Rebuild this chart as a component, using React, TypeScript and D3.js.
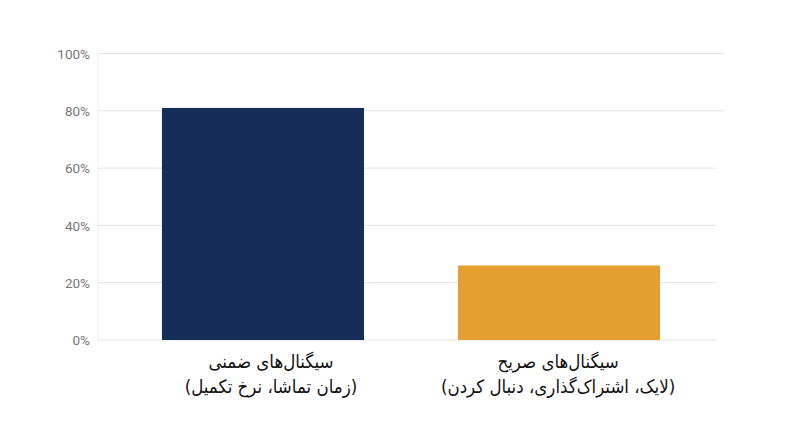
import React, { useRef, useEffect } from "react";
import * as d3 from "d3";

const categories = ["implicit", "explicit"];
const values = [81, 26];
const barColors = ["#162d59", "#e49f2f"];
const labelLines = [
  ["سیگنال‌های ضمنی", "(زمان تماشا، نرخ تکمیل)"],
  ["سیگنال‌های صریح", "(لایک، اشتراک‌گذاری، دنبال کردن)"],
];
const yTicks = [0, 20, 40, 60, 80, 100];

const width = 800;
const height = 447;

const App: React.FC = () => {
  const svgRef = useRef<SVGSVGElement | null>(null);

  useEffect(() => {
    if (!svgRef.current) return;
    const svg = d3.select(svgRef.current);
    svg.selectAll("*").remove();

    const x = d3.scaleBand<string>()
      .domain(categories)
      .range([98, 724])
      .paddingInner(0.3176)
      .paddingOuter(0.216);
    const y = d3.scaleLinear().domain([0, 100]).range([340, 53.5]);

    // grid lines
    svg.append("g")
      .selectAll("line")
      .data(yTicks)
      .enter().append("line")
      .attr("x1", 98)
      .attr("x2", (d) => (d >= 80 ? 723.5 : 716))
      .attr("y1", (d) => y(d))
      .attr("y2", (d) => y(d))
      .attr("stroke", "#e3e3e3")
      .attr("stroke-width", 1);

    // y axis line
    svg.append("line")
      .attr("x1", 98).attr("x2", 98)
      .attr("y1", y(100)).attr("y2", y(0))
      .attr("stroke", "#ececec")
      .attr("stroke-width", 1);

    svg.append("g")
      .selectAll("text")
      .data(yTicks)
      .enter().append("text")
      .attr("x", 90)
      .attr("y", (d) => y(d) + 0.5)
      .attr("dy", "0.36em")
      .attr("text-anchor", "end")
      .attr("font-family", "Roboto")
      .attr("font-size", 13.5)
      .attr("fill", "#777777")
      .text((d) => `${d}%`);

    // bars
    svg.append("g")
      .selectAll("rect")
      .data(values)
      .enter().append("rect")
      .attr("x", (_, i) => x(categories[i]) as number)
      .attr("y", (d) => y(d))
      .attr("width", x.bandwidth())
      .attr("height", (d) => y(0) - y(d))
      .attr("fill", (_, i) => barColors[i]);

    // two line persian labels
    const labels = svg.append("g")
      .selectAll("text")
      .data(labelLines)
      .enter().append("text")
      .attr("text-anchor", "middle")
      .attr("direction", "rtl")
      .attr("font-family", "'DejaVu Sans Condensed', 'DejaVu Sans', sans-serif")
      .attr("font-size", 18.5)
      .attr("fill", "#111111");
    labels.each(function (lines, i) {
      const cx = (x(categories[i]) as number) + x.bandwidth() / 2 + (i === 0 ? 8 : -1);
      d3.select(this).selectAll("tspan")
        .data(lines)
        .enter().append("tspan")
        .attr("x", cx)
        .attr("y", (_, j) => 368 + j * 24.5)
        .text((d) => d);
    });
  }, []);

  return (
    <svg
      ref={svgRef}
      width={width}
      height={height}
      style={{ position: "absolute", left: 0, top: 0, background: "#fff" }}
    />
  );
};

export default App;
